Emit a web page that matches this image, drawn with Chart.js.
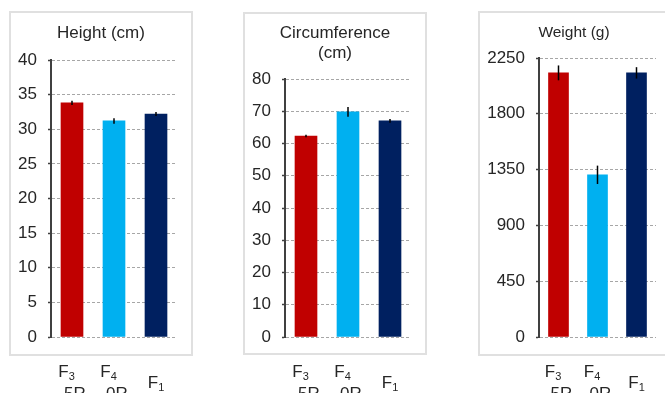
<!DOCTYPE html>
<html>
<head>
<meta charset="utf-8">
<script src="https://cdn.jsdelivr.net/npm/chart.js@4/dist/chart.umd.min.js"></script>
<style>
  html, body {
    margin: 0;
    padding: 0;
    width: 665px;
    height: 393px;
    overflow: hidden;
    background: #fff;
    font-family: "Liberation Sans", Arial, sans-serif;
  }
  .frame {
    position: absolute;
    border: 2px solid #e0e0e0;
    box-sizing: border-box;
  }
  .title {
    position: absolute;
    color: #262626;
    text-align: center;
    line-height: 20px;
    font-size: 17px;
  }
  canvas {
    position: absolute;
    top: 0;
  }
</style>
</head>
<body>
  <div class="frame" style="left:9px; top:11px; width:184px; height:345px"></div>
  <div class="frame" style="left:243px; top:12px; width:184px; height:343px"></div>
  <div class="frame" style="left:478px; top:11px; width:200px; height:345px"></div>

  <canvas id="chartHeight" width="200" height="393" style="left:0px"></canvas>
  <canvas id="chartCircumference" width="200" height="393" style="left:230px"></canvas>
  <canvas id="chartWeight" width="200" height="393" style="left:465px"></canvas>

  <div class="title" style="left:9px; width:184px; top:23px">Height (cm)</div>
  <div class="title" style="left:243px; width:184px; top:23px">Circumference<br>(cm)</div>
  <div class="title" style="left:478px; width:192px; top:22px; font-size:15.5px">Weight (g)</div>

<script>
// category = base letter, subscript, second line
const categories = [['F', '3', '-5R'], ['F', '4', '-0R'], ['F', '1', '']]

const heightValues = [33.8, 31.2, 32.2]
const heightErrors = [0.3, 0.4, 0.3]
const heightTicks = [0, 5, 10, 15, 20, 25, 30, 35, 40]

const circumferenceValues = [62.3, 69.8, 67.0]
const circumferenceErrors = [0.4, 1.5, 0.6]
const circumferenceTicks = [0, 10, 20, 30, 40, 50, 60, 70, 80]

const weightValues = [2130, 1308, 2130]
const weightErrors = [60, 74, 46]
const weightTicks = [0, 450, 900, 1350, 1800, 2250]

const barColors = ['#C00000', '#00B0F0', '#002060']
const textColor = '#262626'
const fontFamily = '"Liberation Sans", Arial, sans-serif'

// vertical error bars, no caps
const errorBarsPlugin = {
  id: 'errorBars',
  afterDatasetsDraw: (chart, args, opts) => {
    const { ctx, scales } = chart
    const meta = chart.getDatasetMeta(0)
    ctx.save()
    ctx.strokeStyle = '#000'
    ctx.lineWidth = 1.5
    meta.data.forEach((bar, i) => {
      const v = chart.data.datasets[0].data[i]
      const e = opts.errors[i]
      ctx.beginPath()
      ctx.moveTo(bar.x, scales.y.getPixelForValue(v + e))
      ctx.lineTo(bar.x, scales.y.getPixelForValue(v - e))
      ctx.stroke()
    })
    ctx.restore()
  }
}

// x labels with subscripts, drawn under the frame
const subscriptLabelsPlugin = {
  id: 'subscriptLabels',
  afterDraw: (chart) => {
    const { ctx, scales, chartArea } = chart
    ctx.save()
    ctx.fillStyle = textColor
    ctx.textAlign = 'left'
    ctx.textBaseline = 'alphabetic'
    categories.forEach((cat, i) => {
      const [base, sub, second] = cat
      ctx.font = '17px ' + fontFamily
      const baseW = ctx.measureText(base).width
      const secondW = ctx.measureText(second).width
      ctx.font = '11px ' + fontFamily
      const subW = ctx.measureText(sub).width
      const groupW = Math.max(baseW + subW, secondW)
      const x0 = scales.x.getPixelForValue(i) - groupW / 2
      const y0 = chartArea.bottom + (second ? 40 : 51)

      ctx.font = '17px ' + fontFamily
      ctx.fillText(base, x0, y0)
      if (second) ctx.fillText(second, x0, y0 + 22)
      ctx.font = '11px ' + fontFamily
      ctx.fillText(sub, x0 + baseW, y0 + 2.5)
    })
    ctx.restore()
  }
}

function makeChart (canvasId, values, errors, ticks, layout) {
  new Chart(document.getElementById(canvasId), {
    type: 'bar',

    data: {
      labels: categories.map((c) => c.join('')),
      datasets: [{
        data: values,
        backgroundColor: barColors,
        barThickness: layout.barWidth
      }]
    },

    options: {
      responsive: false,
      animation: false,
      layout: {
        padding: { left: 0, top: layout.top, right: layout.right, bottom: 56 }
      },
      plugins: {
        legend: { display: false },
        tooltip: { enabled: false },
        errorBars: { errors: errors }
      },
      scales: {
        x: {
          display: false,
          offset: true
        },
        y: {
          min: ticks[0],
          max: ticks[ticks.length - 1],
          afterFit: (scale) => { scale.width = layout.axisWidth },
          ticks: {
            stepSize: ticks[1] - ticks[0],
            padding: 11,
            color: textColor,
            font: { size: 17, family: fontFamily },
            callback: (value) => String(value)
          },
          grid: {
            color: '#a6a6a6',
            lineWidth: 1,
            tickLength: 3,
            tickColor: '#404040',
            tickWidth: 1.5,
            tickBorderDash: []
          },
          border: {
            display: true,
            color: '#404040',
            width: 2,
            dash: [3, 2]
          }
        }
      }
    },
    plugins: [errorBarsPlugin, subscriptLabelsPlugin]
  })
}

makeChart('chartHeight', heightValues, heightErrors, heightTicks,
  { axisWidth: 51, top: 60, right: 23, barWidth: 22 })
makeChart('chartCircumference', circumferenceValues, circumferenceErrors, circumferenceTicks,
  { axisWidth: 55, top: 79, right: 19, barWidth: 22 })
makeChart('chartWeight', weightValues, weightErrors, weightTicks,
  { axisWidth: 74, top: 58, right: 9, barWidth: 20 })
</script>
</body>
</html>
